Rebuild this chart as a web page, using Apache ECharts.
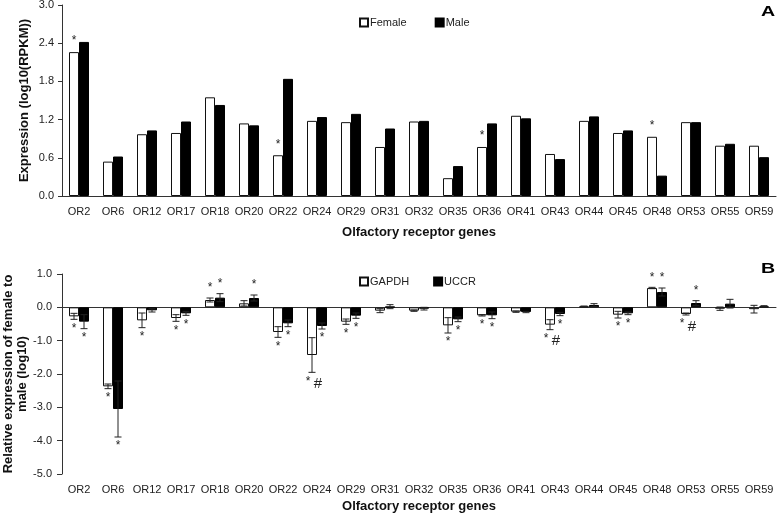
<!DOCTYPE html>
<html>
<head>
<meta charset="utf-8">
<script src="https://cdn.jsdelivr.net/npm/echarts@6/dist/echarts.min.js"></script>
<style>
html,body{margin:0;padding:0;background:#fff;}
#chart{width:778px;height:513px;}
</style>
</head>
<body>
<div id="chart"></div>
<script>
// ---- Data ----
const categories = ['OR2','OR6','OR12','OR17','OR18','OR20','OR22','OR24','OR29','OR31','OR32','OR35','OR36','OR41','OR43','OR44','OR45','OR48','OR53','OR55','OR59'];

// Panel A: expression log10(RPKM)
const female = [2.26,0.54,0.97,0.99,1.55,1.14,0.64,1.18,1.16,0.77,1.17,0.28,0.77,1.26,0.66,1.18,0.99,0.93,1.16,0.79,0.79];
const male   = [2.42,0.62,1.03,1.17,1.43,1.11,1.84,1.24,1.29,1.06,1.18,0.47,1.14,1.22,0.58,1.25,1.03,0.32,1.16,0.82,0.61];
const femaleMarks = ['*','','','','','','*','','','','','','*','','','','','*','','',''];

// Panel B: relative expression female/male (log10)
const gapdh    = [-0.27,-2.37,-0.39,-0.32,0.22,0.12,-0.74,-1.43,-0.43,-0.10,-0.10,-0.54,-0.24,-0.13,-0.52,0.03,-0.22,0.58,-0.20,-0.04,-0.055];
const gapdhErr = [0.09,0.07,0.22,0.10,0.06,0.08,0.16,0.52,0.08,0.06,0.02,0.23,0.02,0.02,0.15,0.01,0.10,0.02,0.03,0.05,0.115];
const uccr     = [-0.43,-3.05,-0.09,-0.18,0.29,0.28,-0.48,-0.56,-0.25,0.02,-0.04,-0.36,-0.24,-0.14,-0.20,0.07,-0.18,0.46,0.13,0.11,0.03];
const uccrErr  = [0.21,0.84,0.05,0.06,0.12,0.09,0.10,0.09,0.08,0.06,0.04,0.07,0.10,0.02,0.05,0.04,0.04,0.12,0.07,0.13,0.02];
const gapdhMarks = ['*','*','*','*','*','','*','* #','*','','','*','*','','* #','','*','*','* #','',''];
const uccrMarks  = ['*','*','','*','*','*','*','*','*','','','*','*','','*','','*','*','*','',''];

// Tick settings
const yTopTicks = {min:0, max:3.0, interval:0.6};
const yBotTicks = {min:-5, max:1.0, interval:1.0};

// ---- Chart ----
const FONT = '"Liberation Sans", Arial, sans-serif';
const BAR_W = 10;
const chart = echarts.init(document.getElementById('chart'));

function errRender(offset){
  return function(params, api){
    const i = api.value(0), v = api.value(1), e = api.value(2);
    const cx = api.coord([i, v])[0] + offset;
    const yTop = api.coord([i, v + e])[1];
    const yBot = api.coord([i, v - e])[1];
    const st = {stroke:'#222', lineWidth:1};
    return {type:'group', children:[
      {type:'line', shape:{x1:cx, y1:yTop, x2:cx, y2:yBot}, style:st},
      {type:'line', shape:{x1:cx-3.5, y1:yTop, x2:cx+3.5, y2:yTop}, style:st},
      {type:'line', shape:{x1:cx-3.5, y1:yBot, x2:cx+3.5, y2:yBot}, style:st}
    ]};
  };
}
function markRender(offset, marks){
  return function(params, api){
    const i = api.value(0), v = api.value(1), e = api.value(2);
    const txt = marks[params.dataIndex];
    if (!txt) return null;
    const cx = api.coord([i, v])[0] + offset;
    const up = v >= 0;
    const y = up ? api.coord([i, v + e])[1] - 4 : api.coord([i, v - e])[1] + 3;
    const isHash = txt.indexOf('#') >= 0;
    if (isHash) {
      return {type:'group', children:[
        {type:'text', style:{text:'*', x:cx-4, y:y, align:'center', verticalAlign:'top', font:'12px ' + FONT, fill:'#222'}},
        {type:'text', style:{text:'#', x:cx+6, y:y+1, align:'center', verticalAlign:'top', font:'15px ' + FONT, fill:'#222'}}
      ]};
    }
    return {type:'text', style:{text:txt, x:cx, y:y, align:'center', verticalAlign: up ? 'bottom' : 'top', font:'12px ' + FONT, fill:'#222'}};
  };
}

const axisLineStyle = {color:'#333', width:1};
const labelStyle = {fontFamily:FONT, fontSize:11, color:'#222'};
const nameStyle = {fontFamily:FONT, fontSize:13, fontWeight:'bold', color:'#111'};

const option = {
  backgroundColor:'#fff',
  animation:false,
  textStyle:{fontFamily:FONT},
  grid:[
    {left:62, right:2, top:5, height:191, outerBoundsMode:'none', containLabel:false},
    {left:62, right:2, top:274, height:200, outerBoundsMode:'none', containLabel:false}
  ],
  legend:[
    {data:['Female','Male'], left:354, top:12, itemWidth:8, itemHeight:8, itemGap:28, icon:'rect',
     textStyle:{fontFamily:FONT, fontSize:11, color:'#222', padding:[0,0,0,-3]}},
    {data:['GAPDH','UCCR'], left:354, top:271, itemWidth:8, itemHeight:8, itemGap:24, icon:'rect',
     textStyle:{fontFamily:FONT, fontSize:11, color:'#222', padding:[0,0,0,-3]}}
  ],
  xAxis:[
    {gridIndex:0, type:'category', data:categories, boundaryGap:true, nameMoveOverlap:false,
     axisLine:{lineStyle:axisLineStyle}, axisTick:{length:4, lineStyle:axisLineStyle},
     axisLabel:Object.assign({margin:10, interval:0}, labelStyle),
     name:'Olfactory receptor genes', nameLocation:'middle', nameGap:30, nameTextStyle:nameStyle},
    {gridIndex:1, type:'category', data:categories, boundaryGap:true,
     axisLine:{onZero:true, lineStyle:axisLineStyle}, axisTick:{length:4, lineStyle:axisLineStyle},
     axisLabel:{show:false}},
    {gridIndex:1, type:'category', data:categories, boundaryGap:true, position:'bottom', nameMoveOverlap:false,
     axisLine:{show:false, onZero:false}, axisTick:{show:false},
     axisLabel:Object.assign({margin:10, interval:0}, labelStyle),
     name:'Olfactory receptor genes', nameLocation:'middle', nameGap:26, nameTextStyle:nameStyle}
  ],
  yAxis:[
    {gridIndex:0, type:'value', min:yTopTicks.min, max:yTopTicks.max, interval:yTopTicks.interval,
     nameMoveOverlap:false,
     splitLine:{show:false}, axisLine:{show:true, lineStyle:axisLineStyle},
     axisTick:{show:true, length:4, lineStyle:axisLineStyle},
     axisLabel:Object.assign({margin:8, formatter:v=>v.toFixed(1)}, labelStyle),
     name:'Expression (log10(RPKM))', nameLocation:'middle', nameGap:31, nameTextStyle:nameStyle},
    {gridIndex:1, type:'value', min:yBotTicks.min, max:yBotTicks.max, interval:yBotTicks.interval,
     nameMoveOverlap:false,
     splitLine:{show:false}, axisLine:{show:true, onZero:false, lineStyle:axisLineStyle},
     axisTick:{show:true, length:5, lineStyle:axisLineStyle},
     axisLabel:Object.assign({margin:10, formatter:v=>v.toFixed(1)}, labelStyle),
     name:'Relative expression of female to\nmale (log10)', nameLocation:'middle', nameGap:33,
     nameTextStyle:Object.assign({lineHeight:14}, nameStyle)}
  ],
  series:[
    {name:'Female', type:'bar', xAxisIndex:0, yAxisIndex:0, data:female, barWidth:BAR_W, barGap:'0%',
     itemStyle:{color:'#fff', borderColor:'#111', borderWidth:1},
     label:{show:true, position:'top', distance:5, fontSize:12, color:'#222', fontFamily:FONT,
            formatter:p=>femaleMarks[p.dataIndex]}},
    {name:'Male', type:'bar', xAxisIndex:0, yAxisIndex:0, data:male, barWidth:BAR_W, barGap:'0%',
     itemStyle:{color:'#000', borderColor:'#000', borderWidth:1}},
    {name:'GAPDH', type:'bar', xAxisIndex:1, yAxisIndex:1, data:gapdh, barWidth:BAR_W, barGap:'0%',
     itemStyle:{color:'#fff', borderColor:'#111', borderWidth:1}},
    {name:'UCCR', type:'bar', xAxisIndex:1, yAxisIndex:1, data:uccr, barWidth:BAR_W, barGap:'0%',
     itemStyle:{color:'#000', borderColor:'#000', borderWidth:1}},
    {name:'gapdhErr', type:'custom', xAxisIndex:1, yAxisIndex:1, z:5, renderItem:errRender(-BAR_W/2),
     encode:{x:0, y:1}, data:categories.map((c,i)=>[i, gapdh[i], gapdhErr[i]])},
    {name:'uccrErr', type:'custom', xAxisIndex:1, yAxisIndex:1, z:5, renderItem:errRender(BAR_W/2),
     encode:{x:0, y:1}, data:categories.map((c,i)=>[i, uccr[i], uccrErr[i]])},
    {name:'gapdhMark', type:'custom', xAxisIndex:1, yAxisIndex:1, z:6, renderItem:markRender(-BAR_W/2, gapdhMarks),
     encode:{x:0, y:1}, data:categories.map((c,i)=>[i, gapdh[i], gapdhErr[i]])},
    {name:'uccrMark', type:'custom', xAxisIndex:1, yAxisIndex:1, z:6, renderItem:markRender(BAR_W/2, uccrMarks),
     encode:{x:0, y:1}, data:categories.map((c,i)=>[i, uccr[i], uccrErr[i]])}
  ],
  graphic:[
    {type:'text', left:761, top:5, scaleX:1.4, style:{text:'A', font:'bold 14px ' + FONT, fill:'#000'}},
    {type:'text', left:761, top:262, scaleX:1.4, style:{text:'B', font:'bold 14px ' + FONT, fill:'#000'}}
  ]
};
chart.setOption(option);
</script>
</body>
</html>
